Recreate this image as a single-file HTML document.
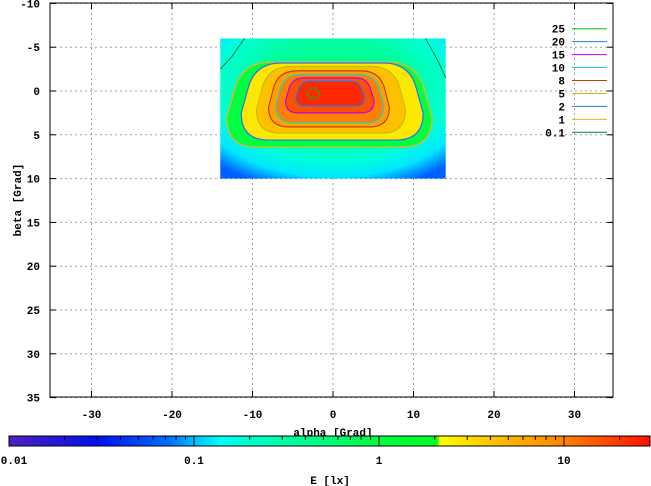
<!DOCTYPE html>
<html><head><meta charset="utf-8"><style>
body{margin:0;background:#fff;}
svg{display:block;font-family:"Liberation Mono",monospace;font-size:11px;font-weight:bold;}
</style></head><body>
<svg id="c" width="651" height="486">
<defs>
<radialGradient id="bg" cx="0.5" cy="0.35" r="0.75">
<stop offset="0" stop-color="#00ff80"/><stop offset="0.45" stop-color="#00ffa0"/>
<stop offset="0.7" stop-color="#00ffd8"/><stop offset="0.85" stop-color="#00e8ff"/><stop offset="1" stop-color="#0060ff"/>
</radialGradient>
<linearGradient id="cb" x1="0" x2="1">
<stop offset="0" stop-color="#5020c0"/><stop offset="0.14" stop-color="#0010f0"/>
<stop offset="0.25" stop-color="#0070ff"/><stop offset="0.29" stop-color="#00c0ff"/>
<stop offset="0.33" stop-color="#00ffff"/><stop offset="0.37" stop-color="#00ffd0"/>
<stop offset="0.58" stop-color="#00ff40"/><stop offset="0.668" stop-color="#00ff20"/>
<stop offset="0.672" stop-color="#ffff00"/><stop offset="0.76" stop-color="#ffc000"/>
<stop offset="0.86" stop-color="#ff8800"/><stop offset="1" stop-color="#ff1000"/>
</linearGradient>
</defs>
<g id="grid"></g>
<g id="heat"></g>
<rect x="50" y="3" width="563" height="394" fill="none" stroke="#000"/>
<g id="axes"></g>
<text x="333" y="436" text-anchor="middle">alpha [Grad]</text>
<text transform="translate(21,200) rotate(-90)" text-anchor="middle">beta [Grad]</text>
<g id="legend"></g>
<rect x="9" y="436" width="641" height="10" fill="url(#cb)" stroke="#000"/>
<g id="cbax"></g>
<text x="330" y="484" text-anchor="middle">E [lx]</text>
</svg>
<script>
const xTicks=[-30,-20,-10,0,10,20,30];
const yTicks=[-10,-5,0,5,10,15,20,25,30,35];
const levels=[1,2,5,8,10,15,20];
const levelFill=["#00ff40","#ffe800","#ffc000","#ffa000","#ff8000","#ff5000","#ff2800"];
const levelLine=["#f0b020","#3070f0","#c0c000","#c04000","#20d0d0","#c000f0","#3070f0"];
const alphaMin=[-13.2,-11.4,-9.5,-8.0,-7.1,-5.9,-4.6];
const alphaMax=[12.3,11.2,9.0,7.0,6.3,5.1,3.9];
const betaMin=[-3.3,-3.2,-2.8,-2.3,-1.9,-1.5,-1.1];
const betaMax=[6.4,5.6,4.8,4.1,3.6,2.5,1.7];
const legendLabels=["25","20","15","10","8","5","2","1","0.1"];
const legendColors=["#00c000","#2080e0","#c000f0","#20d0d0","#c04000","#c0c000","#3070f0","#f0b020","#008040"];
const cbTicks=[0.01,0.1,1,10];
const cbLabels=["0.01","0.1","1","10"];
const heatExtent=[-14,14,-6,10];
const NS="http://www.w3.org/2000/svg";
const X=a=>333+a*8.05, Y=b=>91+b*8.76, CB=v=>9+Math.log10(v/0.01)*185;
function mk(t,at,p){const e=document.createElementNS(NS,t);for(const k in at)e.setAttribute(k,at[k]);p.appendChild(e);return e;}
const grid=document.getElementById('grid'),axes=document.getElementById('axes'),heat=document.getElementById('heat');
xTicks.forEach(t=>{
 const g=mk('line',{x1:X(t),x2:X(t),y1:3,y2:397,stroke:"#a0a0a0","stroke-dasharray":"2,3"},grid);
 
 
 const tx=mk('text',{x:X(t),y:418,"text-anchor":"middle"},axes);tx.textContent=t;
 
 
 mk('line',{x1:X(t),x2:X(t),y1:397,y2:391,stroke:"#000"},axes);
 mk('line',{x1:X(t),x2:X(t),y1:3,y2:9,stroke:"#000"},axes);
});
yTicks.forEach(t=>{
 const g=mk('line',{x1:50,x2:613,y1:Y(t),y2:Y(t),stroke:"#a0a0a0","stroke-dasharray":"2,3"},grid);
 
 
 const tx=mk('text',{x:40,y:Y(t)+4,"text-anchor":"end"},axes);tx.textContent=t;
 
 
 mk('line',{x1:50,x2:56,y1:Y(t),y2:Y(t),stroke:"#000"},axes);
 mk('line',{x1:613,x2:607,y1:Y(t),y2:Y(t),stroke:"#000"},axes);
});
const hx=X(heatExtent[0]),hy=Y(heatExtent[2]),hw=X(heatExtent[1])-hx,hh=Y(heatExtent[3])-hy;
const bgr=mk('rect',{x:hx,y:hy,width:hw,height:hh,fill:"url(#bg)"},heat);


levels.forEach((lv,i)=>{
 const x0=X(alphaMin[i]),x1=X(alphaMax[i]),y0=Y(betaMin[i]),y1=Y(betaMax[i]);
 const w=x1-x0,h=y1-y0,r=Math.min(w,h)*0.35,ins=w*0.07;
 const d=`M${x0+ins+r},${y0} L${x1-ins-r},${y0} Q${x1-ins},${y0} ${x1-ins*0.5},${y0+r} L${x1},${y1-r} Q${x1},${y1} ${x1-r},${y1} L${x0+r},${y1} Q${x0},${y1} ${x0},${y1-r} L${x0+ins*0.5},${y0+r} Q${x0+ins},${y0} ${x0+ins+r},${y0} Z`;
 const p=mk('path',{d:d,fill:levelFill[i],stroke:levelLine[i],"stroke-width":1.2},heat);
 
 
});
const c25=mk('ellipse',{cx:X(-2.45),cy:Y(0.3),rx:6,ry:4.5,fill:"none",stroke:"#00c000"},heat);


const c01a=mk('polyline',{points:`${X(-11)},${Y(-6)} ${X(-12.5)},${Y(-4)} ${X(-14)},${Y(-2.5)}`,fill:"none",stroke:"#008040"},heat);


const c01b=mk('polyline',{points:`${X(11.5)},${Y(-6)} ${X(13)},${Y(-3.5)} ${X(14)},${Y(-1.5)}`,fill:"none",stroke:"#008040"},heat);


const lg=document.getElementById('legend');
legendLabels.forEach((l,i)=>{
 const y=28.7+i*12.95;
 const t=mk('text',{x:565,y:y+4,"text-anchor":"end"},lg);t.textContent=l;
 
 
 const ln=mk('line',{x1:572,x2:607,y1:y,y2:y,stroke:legendColors[i]},lg);
 
 
});
const cbax=document.getElementById('cbax');
cbTicks.forEach((v,i)=>{
 const t=mk('text',{x:Math.max(CB(v),14),y:464,"text-anchor":"middle"},cbax);t.textContent=cbLabels[i];
 
 
 for(let k=1;k<10;k++){const x=CB(v*k);if(x<650)mk('line',{x1:x,x2:x,y1:436,y2:k==1?446:440,stroke:"#000"},cbax);}
});
</script>
</body></html>
